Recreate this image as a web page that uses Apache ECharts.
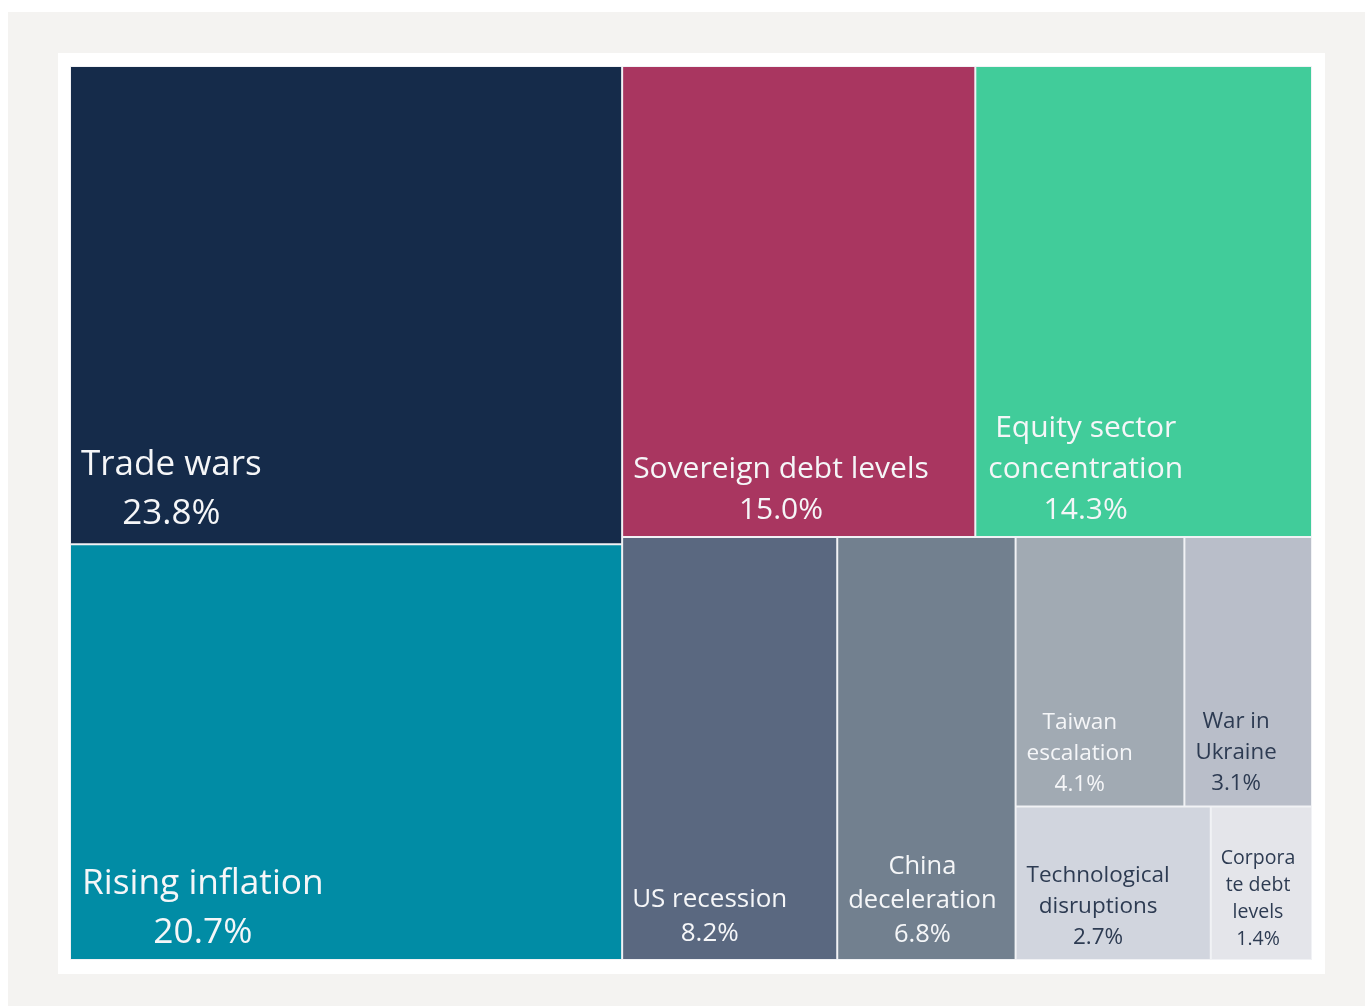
<!DOCTYPE html>
<html>
<head>
<meta charset="utf-8">
<title>Top risks</title>
<script src="https://cdn.jsdelivr.net/npm/echarts@6/dist/echarts.min.js"></script>
<style>
  html, body { margin: 0; padding: 0; background: #ffffff; }
  #page { position: relative; width: 1365px; height: 1006px; overflow: hidden; background: #ffffff; }
  #frame { position: absolute; left: 8px; top: 12px; right: 0; bottom: 0; background: #f4f3f1; }
  #panel { position: absolute; left: 58px; top: 53px; width: 1267px; height: 921px; background: #ffffff; }
  #chart { position: absolute; left: 0; top: 0; width: 1365px; height: 1006px; }
</style>
</head>
<body>
<div id="page">
  <div id="frame"></div>
  <div id="panel"></div>
  <div id="chart"></div>
</div>
<script>
// Share of respondents naming each risk
const riskNames = [
  'Trade wars', 'Rising inflation', 'Sovereign debt levels', 'Equity sector concentration',
  'US recession', 'China deceleration', 'Taiwan escalation', 'War in Ukraine',
  'Technological disruptions', 'Corporate debt levels'
];
const riskShares = [23.8, 20.7, 15.0, 14.3, 8.2, 6.8, 4.1, 3.1, 2.7, 1.4];
// Wrapped label lines for each tile
const riskLabelLines = [
  ['Trade wars'], ['Rising inflation'], ['Sovereign debt levels'], ['Equity sector', 'concentration'],
  ['US recession'], ['China', 'deceleration'], ['Taiwan', 'escalation'], ['War in', 'Ukraine'],
  ['Technological', 'disruptions'], ['Corpora', 'te debt', 'levels']
];

// Tile styling
const tileColors = ['#152b4a', '#018ca5', '#a93660', '#41cc9a', '#5a6880',
                    '#72808f', '#a1aab3', '#b9bec9', '#d1d5de', '#e4e5ea'];
const textColors = ['#f5f6f8', '#f5f6f8', '#f5f6f8', '#f5f6f8', '#f5f6f8',
                    '#f5f6f8', '#f5f6f8', '#2d3b52', '#2d3b52', '#2d3b52'];
const fontSizes   = [35, 35.3, 30, 30, 26, 25.5, 22.6, 22.3, 22.5, 19.5];
const lineHeights = [49, 49, 41, 41, 34, 34, 31, 31, 31, 27];
const padLeft     = [10, 11, 10, 12, 9, 10, 10, 10, 10, 9];
const padBottom   = [5, 2, 5, 5, 8, 7, 6, 6, 5.5, 6.5];

const FONT = '"Open Sans", "Noto Sans", sans-serif';
const measureCtx = document.createElement('canvas').getContext('2d');
function blockWidth(lines, size) {
  measureCtx.font = size + 'px ' + FONT;
  return Math.max.apply(null, lines.map(l => measureCtx.measureText(l).width));
}

function leaf(i) {
  const pct = riskShares[i].toFixed(1) + '%';
  const lines = riskLabelLines[i].concat([pct]);
  const w = blockWidth(lines, fontSizes[i]);
  return {
    name: riskNames[i],
    value: riskShares[i],
    itemStyle: { color: tileColors[i], borderWidth: 1, borderColor: '#f1f2f5' },
    label: {
      show: true,
      formatter: lines.join('\n'),
      position: [padLeft[i] + w / 2, '100%'],
      offset: [0, -padBottom[i]],
      align: 'center',
      verticalAlign: 'bottom',
      padding: 0,
      color: textColors[i],
      fontFamily: FONT,
      fontSize: fontSizes[i],
      lineHeight: lineHeights[i],
      overflow: 'none'
    }
  };
}

// Nested grouping gives the slice-and-dice arrangement of the tiles
const treeData = [
  { name: 'Leading risks', children: [leaf(0), leaf(1)] },
  { name: 'Other risks', children: [
    { name: 'Upper', children: [leaf(2), leaf(3)] },
    { name: 'Lower', children: [
      leaf(4),
      { name: 'Lower rest', children: [
        leaf(5),
        { name: 'Smaller risks', children: [
          { name: 'Smaller upper', children: [leaf(6), leaf(7)] },
          { name: 'Smaller lower', children: [leaf(8), leaf(9)] }
        ] }
      ] }
    ] }
  ] }
];

const chart = echarts.init(document.getElementById('chart'), null, { renderer: 'canvas' });
chart.setOption({
  backgroundColor: 'transparent',
  animation: false,
  tooltip: { show: false },
  series: [{
    type: 'treemap',
    left: 70,
    top: 66,
    width: 1242,
    height: 894,
    sort: false,
    squareRatio: 1,
    roam: false,
    nodeClick: false,
    breadcrumb: { show: false },
    visibleMin: 0,
    itemStyle: { borderWidth: 0, gapWidth: 0, borderColor: '#f1f2f5' },
    upperLabel: { show: false },
    emphasis: { disabled: true },
    data: treeData
  }]
});
</script>
</body>
</html>
